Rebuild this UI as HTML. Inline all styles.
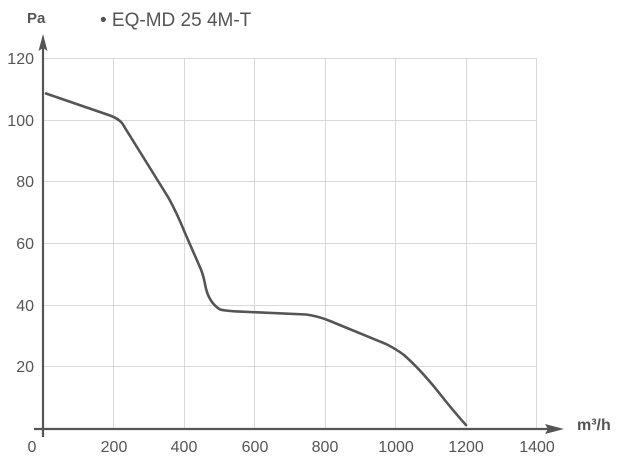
<!DOCTYPE html>
<html><head><meta charset="utf-8"><style>
html,body{margin:0;padding:0;background:#fff;}
svg{display:block;}
text{font-family:"Liberation Sans",sans-serif;fill:#555;}
</style></head><body>
<svg width="627" height="465" viewBox="0 0 627 465" xmlns="http://www.w3.org/2000/svg">
<g stroke="#d9d9d9" stroke-width="1" fill="none">
<line x1="43" y1="58.5" x2="537" y2="58.5"/>
<line x1="43" y1="120.5" x2="537" y2="120.5"/>
<line x1="43" y1="181.5" x2="537" y2="181.5"/>
<line x1="43" y1="243.5" x2="537" y2="243.5"/>
<line x1="43" y1="305.5" x2="537" y2="305.5"/>
<line x1="43" y1="366.5" x2="537" y2="366.5"/>
<line x1="113.5" y1="58" x2="113.5" y2="429"/>
<line x1="184.5" y1="58" x2="184.5" y2="429"/>
<line x1="254.5" y1="58" x2="254.5" y2="429"/>
<line x1="325.5" y1="58" x2="325.5" y2="429"/>
<line x1="395.5" y1="58" x2="395.5" y2="429"/>
<line x1="466.5" y1="58" x2="466.5" y2="429"/>
<line x1="536.5" y1="58" x2="536.5" y2="429"/>
</g>
<g stroke="#555" stroke-width="2.2" fill="none">
<line x1="43" y1="46" x2="43" y2="437"/>
<line x1="34" y1="429" x2="552" y2="429"/>
</g>
<path d="M43,34 L47.5,51 L43,48 L38.5,51 Z" fill="#555"/>
<path d="M564,429 L545,424 L548,429 L545,434 Z" fill="#555"/>
<path d="M46,93.5 L110,115.5 Q118,118.5 122,123 L168,197 Q176,211 185,233 L199,265 Q203,273 205,284 Q208,302 220,309.5 Q226,311 240,311.6 L306,314.5 Q318,316 330,321 L386,344 Q396,349 404,355 Q421,370 440,394 Q455,413 466,425" fill="none" stroke="#555" stroke-width="2.6" stroke-linejoin="round" stroke-linecap="round"/>
<g font-size="16" text-anchor="end">
<text x="34" y="64">120</text>
<text x="34" y="126">100</text>
<text x="34" y="187">80</text>
<text x="34" y="249">60</text>
<text x="34" y="311">40</text>
<text x="34" y="372">20</text>
</g>
<g font-size="16" text-anchor="middle">
<text x="32" y="452">0</text>
<text x="114" y="452">200</text>
<text x="184" y="452">400</text>
<text x="255" y="452">600</text>
<text x="325" y="452">800</text>
<text x="396" y="452">1000</text>
<text x="466" y="452">1200</text>
<text x="537" y="452">1400</text>
</g>
<text x="27" y="23" font-size="15" font-weight="bold">Pa</text>
<text x="577" y="430" font-size="16" font-weight="bold">m³/h</text>
<text x="100" y="26" font-size="19">• EQ-MD 25 4M-T</text>
</svg>
</body></html>
